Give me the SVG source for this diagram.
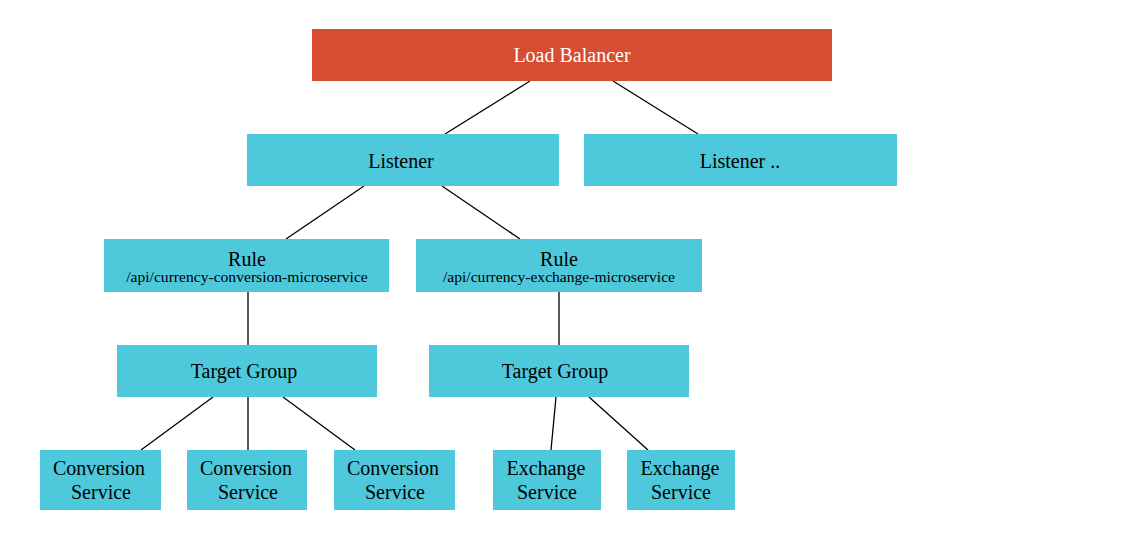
<svg xmlns="http://www.w3.org/2000/svg" width="1145" height="552" viewBox="0 0 1145 552">
<style>
.n{fill:#4DC9DB;}
.lb{fill:#D64D33;}
text{font-family:"Liberation Serif","Times New Roman",serif;font-size:20px;fill:#000;text-anchor:middle;}
.w{fill:#fff;}
.s{font-size:15.6px;}
#edges line{stroke:#000;stroke-width:1.3;}
</style>
<rect width="1145" height="552" fill="#fff"/>
<g id="edges">
<line x1="530" y1="81" x2="445" y2="134"/>
<line x1="613" y1="81" x2="698" y2="134"/>
<line x1="364" y1="186" x2="286" y2="239"/>
<line x1="442" y1="186" x2="520" y2="239"/>
<line x1="248" y1="292" x2="248" y2="345"/>
<line x1="559" y1="292" x2="559" y2="345"/>
<line x1="213" y1="397" x2="141" y2="450"/>
<line x1="248" y1="397" x2="248" y2="450"/>
<line x1="283" y1="397" x2="355" y2="450"/>
<line x1="556" y1="397" x2="551" y2="450"/>
<line x1="589" y1="397" x2="648" y2="450"/>
</g>
<g id="lb"><rect class="lb" x="312" y="29" width="520" height="52"/><text class="w" x="572" y="62">Load Balancer</text></g>
<g id="listener1"><rect class="n" x="247" y="134" width="312" height="52"/><text x="401" y="168">Listener</text></g>
<g id="listener2"><rect class="n" x="584" y="134" width="313" height="52"/><text x="740" y="168">Listener ..</text></g>
<g id="rule1"><rect class="n" x="104" y="239" width="285" height="53"/><text x="247" y="266">Rule</text><text class="s" x="247" y="282">/api/currency-conversion-microservice</text></g>
<g id="rule2"><rect class="n" x="416" y="239" width="286" height="53"/><text x="559" y="266">Rule</text><text class="s" x="559" y="282">/api/currency-exchange-microservice</text></g>
<g id="tg1"><rect class="n" x="117" y="345" width="260" height="52"/><text x="244" y="378">Target Group</text></g>
<g id="tg2"><rect class="n" x="429" y="345" width="260" height="52"/><text x="555" y="378">Target Group</text></g>
<g id="conv1"><rect class="n" x="40" y="450" width="121" height="60"/><text x="99" y="475">Conversion</text><text x="101" y="499">Service</text></g>
<g id="conv2"><rect class="n" x="187" y="450" width="120" height="60"/><text x="246" y="475">Conversion</text><text x="248" y="499">Service</text></g>
<g id="conv3"><rect class="n" x="334" y="450" width="121" height="60"/><text x="393" y="475">Conversion</text><text x="395" y="499">Service</text></g>
<g id="ex1"><rect class="n" x="493" y="450" width="108" height="60"/><text x="546" y="475">Exchange</text><text x="547" y="499">Service</text></g>
<g id="ex2"><rect class="n" x="627" y="450" width="108" height="60"/><text x="680" y="475">Exchange</text><text x="681" y="499">Service</text></g>
</svg>
